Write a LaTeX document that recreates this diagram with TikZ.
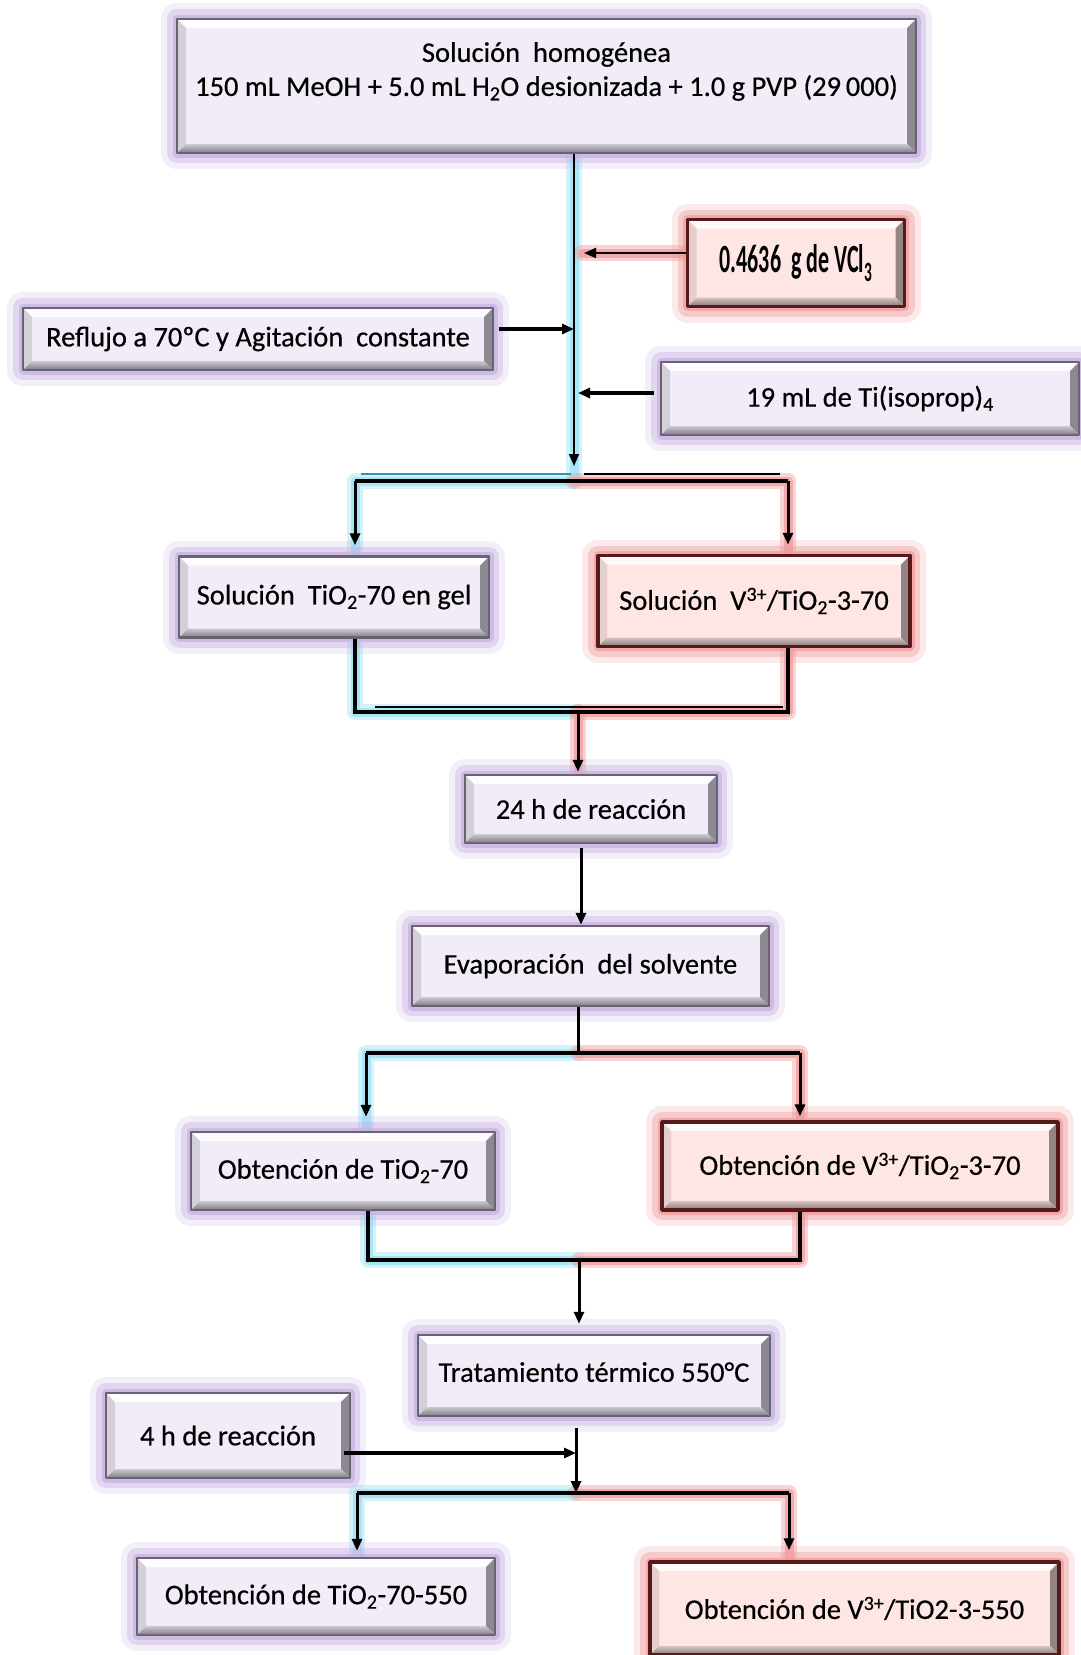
\documentclass[tikz,border=0pt]{standalone}
\usepackage{fontspec}
\setmainfont{Carlito}[FakeBold=0.5]
\newfontfamily\condfont[FakeStretch=0.55]{Carlito}
\usetikzlibrary{arrows.meta,calc,backgrounds}
\definecolor{pglow}{HTML}{C6B0E2}
\definecolor{pfill}{HTML}{F1ECF8}
\definecolor{pbd}{HTML}{6A6174}
\definecolor{rglow}{HTML}{F09A9A}
\definecolor{rfill}{HTML}{FDE6E4}
\definecolor{rbd}{HTML}{571A1A}
\definecolor{cglowc}{HTML}{9FE3F4}
\definecolor{rglowc}{HTML}{F2A0A0}
\newcommand\boxfs{\fontsize{28.5}{34}\selectfont}
\def\bw{9pt}
\newcommand\bevelpic[5]{%
 \path (path picture bounding box.south west) coordinate (bsw)
       (path picture bounding box.north east) coordinate (bne)
       (path picture bounding box.north west) coordinate (bnw)
       (path picture bounding box.south east) coordinate (bse);
 \fill[#1] (bnw) -- (bne) -- ($(bne)+(-\bw,-\bw)$) -- ($(bnw)+(\bw,-\bw)$) -- cycle;
 \fill[#2] (bnw) -- (bsw) -- ($(bsw)+(\bw,\bw)$) -- ($(bnw)+(\bw,-\bw)$) -- cycle;
 \fill[#3] (bne) -- (bse) -- ($(bse)+(-\bw,\bw)$) -- ($(bne)+(-\bw,-\bw)$) -- cycle;
 \shade[top color=#4,bottom color=#5] (bsw) -- (bse) -- ($(bse)+(-\bw,\bw)$) -- ($(bsw)+(\bw,\bw)$) -- cycle;
}
\tikzset{
 basebox/.style={inner sep=0pt, align=center, font=\boxfs, line join=round, text=black},
 pbox/.style={basebox, draw=pbd, line width=2.5pt, fill=pfill,
   preaction={draw=pglow, line width=32pt, opacity=0.2},
   preaction={draw=pglow, line width=20pt, opacity=0.4},
   preaction={draw=pglow, line width=9pt, opacity=0.7},
   path picture={\bevelpic{white!85!pfill}{black!12!pfill}{black!42!pfill}{black!15!pfill}{black!48!pfill}}},
 rbox/.style={basebox, draw=rbd, line width=3.5pt, fill=rfill,
   preaction={draw=rglow, line width=32pt, opacity=0.2},
   preaction={draw=rglow, line width=20pt, opacity=0.4},
   preaction={draw=rglow, line width=9pt, opacity=0.7},
   path picture={\bevelpic{white!80!rfill}{black!10!rfill}{black!42!rfill}{black!15!rfill}{black!48!rfill}}},
 tip/.style={-{Triangle[length=12pt,width=10pt]}},
 thinarr/.style={tip, line width=1.8pt},
 medarr/.style={tip, line width=3.3pt},
 downarr/.style={tip, line width=3pt},
 thickl/.style={line width=3.4pt, line join=miter},
 cg/.style={draw=cglowc, line cap=round, line join=round, line width=16pt, opacity=0.45,
   postaction={draw=cglowc, line width=9pt, opacity=0.8}},
 rg/.style={draw=rglowc, line cap=round, line join=round, line width=16pt, opacity=0.45,
   postaction={draw=rglowc, line width=9pt, opacity=0.8}},
}
\begin{document}
\begin{tikzpicture}[x=1pt,y=-1pt]
\useasboundingbox (0,0) rectangle (1081,1655);

% nodes
\node[pbox, minimum width=739pt, minimum height=134pt] (top) at (546.5,86)
  {Solución\ \ homogénea\\150 mL MeOH + 5.0 mL H\textsubscript{2}O desionizada + 1.0 g PVP (29\,000)\\\mbox{}};
\node[rbox, minimum width=217pt, minimum height=87pt] (vcl) at (796,263)
  {\condfont\bfseries\fontsize{40}{40}\selectfont 0.4636\ \ g de VCl\textsubscript{3}};
\node[pbox, minimum width=470pt, minimum height=62pt] (refl) at (258,339)
  {Reflujo a 70ºC y Agitación\ \ constante};
\node[pbox, minimum width=418pt, minimum height=73pt] (ti) at (870,398.5)
  {19 mL de Ti(isoprop)\textsubscript{4}};
\node[pbox, minimum width=310pt, minimum height=81pt] (tgel) at (334,597)
  {Solución\ \ TiO\textsubscript{2}-70 en gel};
\node[rbox, minimum width=312pt, minimum height=91pt] (vsol) at (754,601)
  {Solución\ \ V\textsuperscript{3+}/TiO\textsubscript{2}-3-70};
\node[pbox, minimum width=252pt, minimum height=68pt] (h24) at (591,809)
  {24 h de reacción};
\node[pbox, minimum width=357pt, minimum height=80pt] (evap) at (590.5,966)
  {Evaporación\ \ del solvente};
\node[pbox, minimum width=304pt, minimum height=78pt] (ob1) at (343,1171)
  {Obtención de TiO\textsubscript{2}-70};
\node[rbox, minimum width=396pt, minimum height=88pt] (ob2) at (860,1166)
  {Obtención de V\textsuperscript{3+}/TiO\textsubscript{2}-3-70};
\node[pbox, minimum width=352pt, minimum height=81pt] (trat) at (594,1375.5)
  {\raisebox{7pt}{Tratamiento térmico 550°C}};
\node[pbox, minimum width=244pt, minimum height=85pt] (h4) at (228,1435.5)
  {4 h de reacción};
\node[pbox, minimum width=358pt, minimum height=77pt] (ob3) at (316,1596.5)
  {Obtención de TiO\textsubscript{2}-70-550};
\node[rbox, minimum width=409pt, minimum height=93pt] (ob4) at (854.5,1608.5)
  {Obtención de V\textsuperscript{3+}/TiO2-3-550};

% coordinates
\coordinate (c1) at (574,466);
\coordinate (s1) at (574,481);
\coordinate (s1L) at (355,481);
\coordinate (s1R) at (788,481);
\coordinate (m1) at (578,712);
\coordinate (m1L) at (355,712);
\coordinate (m1R) at (788,712);
\coordinate (s2) at (578,1053);
\coordinate (s2L) at (366,1053);
\coordinate (s2R) at (800,1053);
\coordinate (m2) at (579,1260);
\coordinate (m2L) at (368,1260);
\coordinate (m2R) at (800,1260);
\coordinate (s3) at (576,1493);
\coordinate (s3L) at (357,1493);
\coordinate (s3R) at (789,1493);

% glows
\begin{scope}[on background layer]
\fill[white] (0,0) rectangle (1081,1655);
\path[cg] (top.south -| s1) -- (s1);
\path[rg] ([yshift=10pt]vcl.west) -- ([yshift=10pt,xshift=8pt]vcl.west -| s1);
\path[cg] (s1) -- (s1L) -- (s1L |- tgel.north);
\path[rg] (s1) -- (s1R) -- (s1R |- vsol.north);
\path[cg] (tgel.south -| m1L) -- (m1L) -- (m1);
\path[rg] (vsol.south -| m1R) -- (m1R) -- (m1);
\path[rg] (m1) -- (m1 |- h24.north);
\path[cg] (s2) -- (s2L) -- (s2L |- ob1.north);
\path[rg] (s2) -- (s2R) -- (s2R |- ob2.north);
\path[cg] (ob1.south -| m2L) -- (m2L) -- (m2);
\path[rg] (ob2.south -| m2R) -- (m2R) -- (m2);
\path[cg] (s3) -- (s3L) -- (s3L |- ob3.north);
\path[rg] (s3) -- (s3R) -- (s3R |- ob4.north);
\end{scope}

% connectors
\draw[thinarr] (top.south -| c1) -- (c1);
\draw[medarr, line width=2pt] ([yshift=10pt]vcl.west) -- ([yshift=10pt,xshift=10pt]vcl.west -| c1);
\draw[medarr] ([xshift=5pt,yshift=10pt]refl.east) -- ([yshift=10pt]refl.east -| c1);
\draw[medarr] ([xshift=-6pt,yshift=5.5pt]ti.west) -- ([xshift=4pt,yshift=5.5pt]ti.west -| c1);

\draw[thickl] (s1L) -- (s1R);
\draw[line width=1.2pt, draw=cyan!70!black] ([xshift=6pt,yshift=7pt]s1L) -- ([xshift=-3pt,yshift=7pt]s1);
\draw[line width=1.4pt] ([xshift=10pt,yshift=7pt]s1) -- ([xshift=-8pt,yshift=7pt]s1R);
\draw[downarr, shorten >=10pt] (s1L) -- (s1L |- tgel.north);
\draw[downarr, shorten >=9pt] (s1R) -- (s1R |- vsol.north);

\draw[thickl, line width=3.8pt] (tgel.south -| m1L) -- (m1L) -- (m1R) -- (vsol.south -| m1R);
\draw[line width=1.2pt] ([xshift=20pt,yshift=5pt]m1L) -- ([xshift=-5pt,yshift=5pt]m1R);
\draw[downarr, shorten >=2pt] (m1) -- (m1 |- h24.north);

\draw[downarr, shorten <=4pt] ([xshift=-10pt]h24.south) -- ([xshift=-10pt]h24.south |- evap.north);

\draw[line width=3pt] (evap.south -| s2) -- (s2);
\draw[thickl] (s2L) -- (s2R);
\draw[downarr, shorten >=14pt] (s2L) -- (s2L |- ob1.north);
\draw[downarr, shorten >=4pt] (s2R) -- (s2R |- ob2.north);

\draw[thickl, line width=3.6pt] (ob1.south -| m2L) -- (m2L) -- (m2R) -- (ob2.south -| m2R);
\draw[downarr, shorten >=10pt] (m2) -- (m2 |- trat.north);

\draw[downarr, shorten <=11pt] (trat.south -| s3) -- (s3);
\draw[medarr] ([yshift=-17.5pt,xshift=-7pt]h4.east) -- ([yshift=-17.5pt]h4.east -| s3);
\draw[thickl] (s3L) -- (s3R);
\draw[downarr, shorten >=6pt] (s3L) -- (s3L |- ob3.north);
\draw[downarr, shorten >=10pt] (s3R) -- (s3R |- ob4.north);
\end{tikzpicture}
\end{document}
